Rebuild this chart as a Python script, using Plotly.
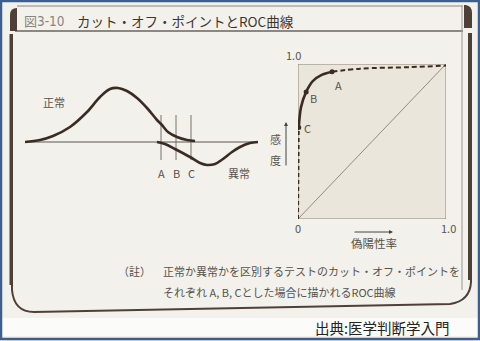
import plotly.graph_objects as go

W, H = 480, 341

# ---------------- data ----------------
# left panel: test value (arbitrary units) vs. frequency
normal_x = [0, 1.5, 2.8, 4.5, 6.2, 7.5, 8.5, 9.3, 10.2, 11.2, 12.2, 13.2, 13.7, 14.3, 15.2, 16.2, 17.0]
normal_y = [0, 0.2, 0.6, 1.5, 3.0, 4.5, 5.3, 5.4, 5.1, 4.4, 3.4, 2.2, 1.7, 1.0, 0.5, 0.2, 0.1]
abnormal_x = [13.2, 14.0, 15.0, 16.5, 17.5, 18.2, 19.0, 19.8, 20.7, 21.5, 22.5, 23.3]
abnormal_y = [0, -0.2, -0.7, -1.5, -2.1, -2.3, -2.2, -1.7, -1.0, -0.5, -0.1, 0]
baseline_x = [0, 23.3]
cut_labels = ["A", "B", "C"]
cut_values = [13.6, 15.1, 16.6]
cut_line_y = [2.7, -1.8]

# right panel: ROC curve
roc_low_fpr = [0.0, 0.002, 0.005]
roc_low_tpr = [0.0, 0.30, 0.59]
roc_mid_fpr = [0.005, 0.02, 0.055, 0.10, 0.16, 0.23]
roc_mid_tpr = [0.59, 0.72, 0.82, 0.89, 0.93, 0.95]
roc_high_fpr = [0.23, 0.42, 0.76, 1.0]
roc_high_tpr = [0.95, 0.97, 0.98, 0.99]
point_labels = ["A", "B", "C"]
point_fpr = [0.23, 0.055, 0.005]
point_tpr = [0.95, 0.82, 0.59]

# ---------------- helpers ----------------
def px(x):
    return x / W

def py(y):
    return 1 - y / H

def path(points, close=False):
    s = ""
    for cmd, *vals in points:
        coords = []
        for j in range(0, len(vals), 2):
            coords.append(f"{px(vals[j]):.5f},{py(vals[j+1]):.5f}")
        s += cmd + " " + " ".join(coords) + " "
    if close:
        s += "Z"
    return s

INK = "#3a2c24"
TXT = "#57524c"
JP = "Noto Sans CJK JP"

fig = go.Figure()

# left panel traces
fig.add_trace(go.Scatter(x=baseline_x, y=[0, 0], mode="lines",
                         line=dict(color="#5a5550", width=1), xaxis="x", yaxis="y"))
for v in cut_values:
    fig.add_trace(go.Scatter(x=[v, v], y=cut_line_y, mode="lines",
                             line=dict(color="#6a655f", width=0.9), xaxis="x", yaxis="y"))
fig.add_trace(go.Scatter(x=normal_x, y=normal_y, mode="lines",
                         line=dict(color=INK, width=2.6, shape="spline", smoothing=1.0),
                         xaxis="x", yaxis="y"))
fig.add_trace(go.Scatter(x=abnormal_x, y=abnormal_y, mode="lines",
                         line=dict(color=INK, width=2.6, shape="spline", smoothing=1.0),
                         xaxis="x", yaxis="y"))

# right panel traces
fig.add_trace(go.Scatter(x=[0, 1], y=[0, 1], mode="lines",
                         line=dict(color="#7a746c", width=0.8), xaxis="x2", yaxis="y2"))
fig.add_trace(go.Scatter(x=roc_low_fpr, y=roc_low_tpr, mode="lines",
                         line=dict(color=INK, width=2, dash="4px,3px"), xaxis="x2", yaxis="y2"))
fig.add_trace(go.Scatter(x=roc_high_fpr, y=roc_high_tpr, mode="lines",
                         line=dict(color=INK, width=2, dash="5px,3px", shape="spline"),
                         xaxis="x2", yaxis="y2"))
fig.add_trace(go.Scatter(x=roc_mid_fpr, y=roc_mid_tpr, mode="lines",
                         line=dict(color=INK, width=2.6, shape="spline", smoothing=0.8),
                         xaxis="x2", yaxis="y2"))
fig.add_trace(go.Scatter(x=point_fpr, y=point_tpr, mode="markers",
                         marker=dict(color=INK, size=5), xaxis="x2", yaxis="y2"))

shapes = []
# outer blue frame
shapes.append(dict(type="rect", xref="paper", yref="paper", x0=px(1), x1=px(479), y0=py(339), y1=py(1),
                   line=dict(color="#3d5f8f", width=2.5), fillcolor="rgba(0,0,0,0)", layer="above"))
# light band below the card
shapes.append(dict(type="rect", xref="paper", yref="paper", x0=px(2), x1=px(478), y0=py(336), y1=py(318),
                   line=dict(width=0), fillcolor="#fbfbf9", layer="below"))
# title bar lines
shapes.append(dict(type="line", xref="paper", yref="paper", x0=px(17), x1=px(463), y0=py(6), y1=py(6),
                   line=dict(color="#8a857e", width=1), layer="below"))
shapes.append(dict(type="line", xref="paper", yref="paper", x0=px(15), x1=px(463), y0=py(31), y1=py(31),
                   line=dict(color="#6a655e", width=1.5), layer="below"))
shapes.append(dict(type="line", xref="paper", yref="paper", x0=px(462), x1=px(462), y0=py(6), y1=py(290),
                   line=dict(color="#9a958e", width=1), layer="below"))
# dark top corners
shapes.append(dict(type="path", xref="paper", yref="paper",
                   path=path([("M", 10, 31), ("L", 10, 15), ("Q", 10, 8, 17, 8), ("L", 17, 31)], close=True),
                   fillcolor="#4e4038", line=dict(width=0), layer="below"))
shapes.append(dict(type="path", xref="paper", yref="paper",
                   path=path([("M", 464, 5), ("L", 466, 5), ("Q", 472, 6, 472, 13), ("L", 472, 28), ("L", 464, 28)], close=True),
                   fillcolor="#4e4038", line=dict(width=0), layer="below"))
# card body border
shapes.append(dict(type="path", xref="paper", yref="paper",
                   path=path([("M", 12, 34), ("L", 12, 290), ("Q", 14, 312, 34, 312), ("L", 450, 304),
                              ("Q", 470, 301, 471, 282), ("L", 471, 33)]),
                   line=dict(color="#4e4038", width=2), layer="below"))
shapes.append(dict(type="line", xref="paper", yref="paper", x0=px(11), x1=px(11), y0=py(34), y1=py(285),
                   line=dict(color="#4e4038", width=3), layer="below"))
shapes.append(dict(type="line", xref="paper", yref="paper", x0=px(470), x1=px(470), y0=py(33), y1=py(280),
                   line=dict(color="#4e4038", width=4), layer="below"))
# ROC box
shapes.append(dict(type="rect", xref="x2", yref="y2", x0=0, x1=1, y0=0, y1=1,
                   fillcolor="#ebe6db", line=dict(color="#8c8478", width=1), layer="below"))

ann = []
def txt(text, x, y, size=11, color=TXT, xanchor="center", family=JP):
    ann.append(dict(text=text, x=px(x), y=py(y), xref="paper", yref="paper", showarrow=False,
                    xanchor=xanchor, yanchor="middle", font=dict(family=family, size=size, color=color)))

# title
txt("図", 22, 21, size=13, color="#8a8580", xanchor="left")
txt("3-10", 35, 21, size=13.5, color="#8a8580", xanchor="left", family="DejaVu Sans Condensed, DejaVu Sans")
txt("カット・オフ・ポイントとROC曲線", 75, 21, size=13.5, color="#3a3530", xanchor="left")

# left panel labels (data coords)
ann.append(dict(text="正常", x=2.9, y=4.0, xref="x", yref="y", showarrow=False,
                font=dict(family=JP, size=11, color=TXT)))
ann.append(dict(text="異常", x=21.4, y=-3.1, xref="x", yref="y", showarrow=False,
                font=dict(family=JP, size=11, color=TXT)))
for lab, v in zip(cut_labels, cut_values):
    ann.append(dict(text=lab, x=v, y=-3.1, xref="x", yref="y", showarrow=False,
                    font=dict(family=JP, size=11, color=TXT)))

# ROC point labels
for lab, fx, ty, dx, dy in zip(point_labels, point_fpr, point_tpr, [6, 7, 9], [-13, -6, 0]):
    ann.append(dict(text=lab, x=fx, y=ty, xref="x2", yref="y2", showarrow=False,
                    xshift=dx, yshift=dy, font=dict(family=JP, size=11, color=TXT)))

# ROC tick labels
txt("1.0", 293, 55, size=11)
txt("0", 298, 228, size=11)
txt("1.0", 448, 228, size=11)
txt("偽陽性率", 374, 243, size=11.5)
txt("感", 275, 139, size=11)
txt("度", 275, 160, size=11)

# arrows
ann.append(dict(x=px(393), y=py(232), xref="paper", yref="paper", ax=-40, ay=0, text="",
                showarrow=True, arrowhead=2, arrowsize=0.8, arrowwidth=1, arrowcolor="#444"))
ann.append(dict(x=px(286), y=py(122), xref="paper", yref="paper", ax=0, ay=45, text="",
                showarrow=True, arrowhead=2, arrowsize=0.8, arrowwidth=1, arrowcolor="#444"))

# note
txt("（註）", 134, 271, size=11, xanchor="center")
txt("正常か異常かを区別するテストのカット・オフ・ポイントを", 161, 271, size=11, xanchor="left")
txt("それぞれ A, B, Cとした場合に描かれるROC曲線", 161, 292, size=11, xanchor="left")

# source
txt("出典:医学判断学入門", 313, 327, size=14.5, color="#222", xanchor="left")

ax_off = dict(showgrid=False, zeroline=False, showticklabels=False, showline=False, ticks="", fixedrange=True)

fig.update_layout(
    width=W, height=H, margin=dict(l=0, r=0, t=0, b=0),
    paper_bgcolor="#f3f1eb", plot_bgcolor="rgba(0,0,0,0)",
    showlegend=False,
    xaxis=dict(domain=[px(25), px(258)], range=[0, 23.3], **ax_off),
    yaxis=dict(domain=[py(180), py(80)], range=[-3.8, 6.2], **ax_off),
    xaxis2=dict(domain=[px(298), px(446)], range=[0, 1], anchor="y2", **ax_off),
    yaxis2=dict(domain=[py(219), py(64)], range=[0, 1], anchor="x2", **ax_off),
    shapes=shapes, annotations=ann,
)

fig.write_html("out.html")
